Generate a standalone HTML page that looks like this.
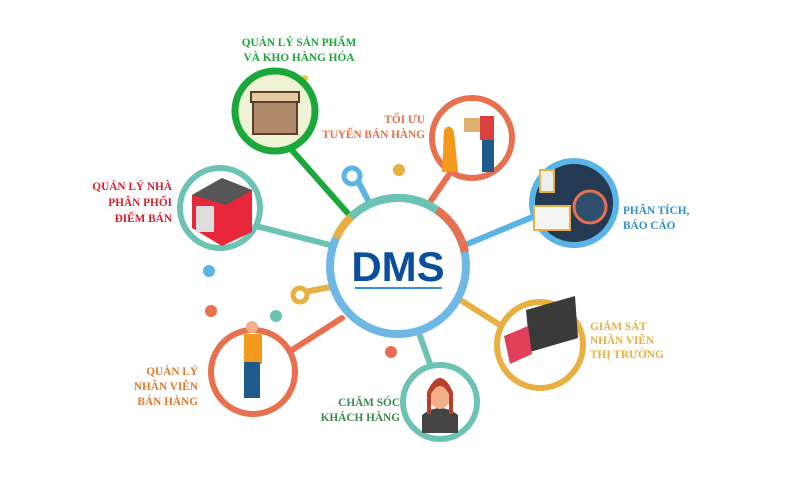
<!DOCTYPE html>
<html><head><meta charset="utf-8"><style>
html,body{margin:0;padding:0;background:#fff}
svg{display:block}
text{font-family:"Liberation Serif",serif;font-weight:bold;font-size:11.3px}
</style></head><body>
<svg width="800" height="481" viewBox="0 0 800 481" xmlns="http://www.w3.org/2000/svg">
<rect width="800" height="481" fill="#fff"/>
<g stroke-width="6" stroke-linecap="round" fill="none">
<line x1="290" y1="148" x2="352" y2="218" stroke="#1aa83a"/>
<line x1="448" y1="176" x2="428" y2="205" stroke="#e8704e"/>
<line x1="256" y1="226" x2="334" y2="246" stroke="#6cc3b3"/>
<line x1="530" y1="218" x2="465" y2="245" stroke="#5ab4e5"/>
<line x1="500" y1="325" x2="454" y2="296" stroke="#e8b040"/>
<line x1="430" y1="364" x2="420" y2="336" stroke="#6cc3b3"/>
<line x1="292" y1="350" x2="342" y2="318" stroke="#e8704e"/>
<line x1="359" y1="183" x2="372" y2="208" stroke="#5ab4e5"/>
<line x1="305" y1="292" x2="330" y2="287" stroke="#e8b040"/>
</g>
<circle cx="352" cy="176" r="8" fill="#fff" stroke="#5ab4e5" stroke-width="5"/>
<circle cx="300" cy="295" r="7" fill="#fff" stroke="#e8b040" stroke-width="5"/>
<circle cx="399" cy="170" r="6" fill="#e8b040"/>
<circle cx="209" cy="271" r="6" fill="#5ab4e5"/>
<circle cx="211" cy="311" r="6" fill="#e8704e"/>
<circle cx="276" cy="316" r="6" fill="#6cc3b3"/>
<circle cx="391" cy="352" r="6" fill="#e8704e"/>
<circle cx="305" cy="78" r="3" fill="#e8c830"/>
<circle cx="398" cy="266" r="68" fill="#fff" stroke="#6fb8e6" stroke-width="8"/>
<path d="M351 217 A68 68 0 0 1 437 210" stroke="#6cc3b3" stroke-width="8" fill="none"/>
<path d="M437 210 A68 68 0 0 1 465 252" stroke="#e8704e" stroke-width="8" fill="none"/>
<path d="M336 238 A68 68 0 0 1 351 217" stroke="#e8b040" stroke-width="8" fill="none"/>
<text x="398" y="281" text-anchor="middle" style="font-family:'Liberation Sans',sans-serif;font-size:42px;font-weight:bold;fill:#0a4f9c">DMS</text>
<line x1="355" y1="288" x2="442" y2="288" stroke="#3a8fd6" stroke-width="2"/>
<circle cx="275" cy="111" r="40" fill="#eef3d4" stroke="#1aa83a" stroke-width="7"/>
<rect x="253" y="100" width="44" height="34" fill="#b08a6a" stroke="#5a3d2a" stroke-width="2"/>
<rect x="251" y="92" width="48" height="10" fill="#e8c8a0" stroke="#5a3d2a" stroke-width="2"/>
<circle cx="472" cy="138" r="40" fill="#fff" stroke="#e8704e" stroke-width="6"/>
<path d="M444 130 q6 -8 10 2 l4 40 h-16 z" fill="#f39a1e"/>
<rect x="480" y="116" width="14" height="24" fill="#d94040"/>
<rect x="482" y="140" width="12" height="32" fill="#1f5b8a"/>
<rect x="464" y="118" width="16" height="14" fill="#e0b070"/>
<circle cx="220" cy="208" r="40" fill="#fff" stroke="#6cc3b3" stroke-width="6"/>
<path d="M192 195 L222 178 L252 190 L252 232 L222 246 L192 228 Z" fill="#e8283a"/>
<path d="M192 195 L222 178 L252 190 L226 205 Z" fill="#555"/>
<rect x="196" y="206" width="18" height="26" fill="#ddd"/>
<circle cx="574" cy="203" r="42" fill="#233a52" stroke="#5ab4e5" stroke-width="6"/>
<rect x="534" y="206" width="36" height="24" fill="#f5f5f5" stroke="#e8b040" stroke-width="2"/>
<rect x="540" y="170" width="14" height="22" fill="#eee" stroke="#e8b040" stroke-width="2"/>
<circle cx="590" cy="207" r="16" fill="#2e4f6e" stroke="#e8704e" stroke-width="3"/>
<circle cx="540" cy="345" r="43" fill="#fff" stroke="#e8b040" stroke-width="6"/>
<path d="M526 310 L575 296 L578 338 L530 352 Z" fill="#3a3a3a"/>
<path d="M504 336 L528 326 L532 354 L510 364 Z" fill="#e0405a"/>
<circle cx="440" cy="402" r="37" fill="#fff" stroke="#6cc3b3" stroke-width="6"/>
<path d="M422 415 q18 -14 36 0 v18 h-36 z" fill="#444"/>
<ellipse cx="440" cy="395" rx="11" ry="14" fill="#f2b08a"/>
<path d="M427 392 q13 -28 26 0 v22 h-4 v-20 q-9 -16 -18 0 v20 h-4 z" fill="#b8402a"/>
<circle cx="253" cy="372" r="42" fill="#fff" stroke="#e8704e" stroke-width="6"/>
<rect x="244" y="334" width="18" height="30" fill="#f39a1e"/>
<rect x="244" y="362" width="16" height="36" fill="#1f5b8a"/>
<circle cx="252" cy="327" r="6" fill="#f2b08a"/>
<g fill="#1aa83a" text-anchor="middle"><text x="299" y="46">QUẢN LÝ SẢN PHẨM</text><text x="299" y="61">VÀ KHO HÀNG HÓA</text></g>
<g fill="#e8704e" text-anchor="end"><text x="425" y="123">TỐI ƯU</text><text x="425" y="138">TUYẾN BÁN HÀNG</text></g>
<g fill="#d8202e" text-anchor="end"><text x="172" y="190">QUẢN LÝ NHÀ</text><text x="172" y="206">PHÂN PHỐI</text><text x="172" y="222">ĐIỂM BÁN</text></g>
<g fill="#2f8fd0"><text x="623" y="214">PHÂN TÍCH,</text><text x="623" y="229">BÁO CÁO</text></g>
<g fill="#e8b040" style="font-size:10.5px"><text x="590" y="330">GIÁM SÁT</text><text x="590" y="344">NHÂN VIÊN</text><text x="590" y="358">THỊ TRƯỜNG</text></g>
<g fill="#e07a2e" text-anchor="end"><text x="198" y="375">QUẢN LÝ</text><text x="198" y="390">NHÂN VIÊN</text><text x="198" y="405">BÁN HÀNG</text></g>
<g fill="#3a8a4a" text-anchor="end"><text x="400" y="406">CHĂM SÓC</text><text x="400" y="421">KHÁCH HÀNG</text></g>
</svg>
</body></html>
